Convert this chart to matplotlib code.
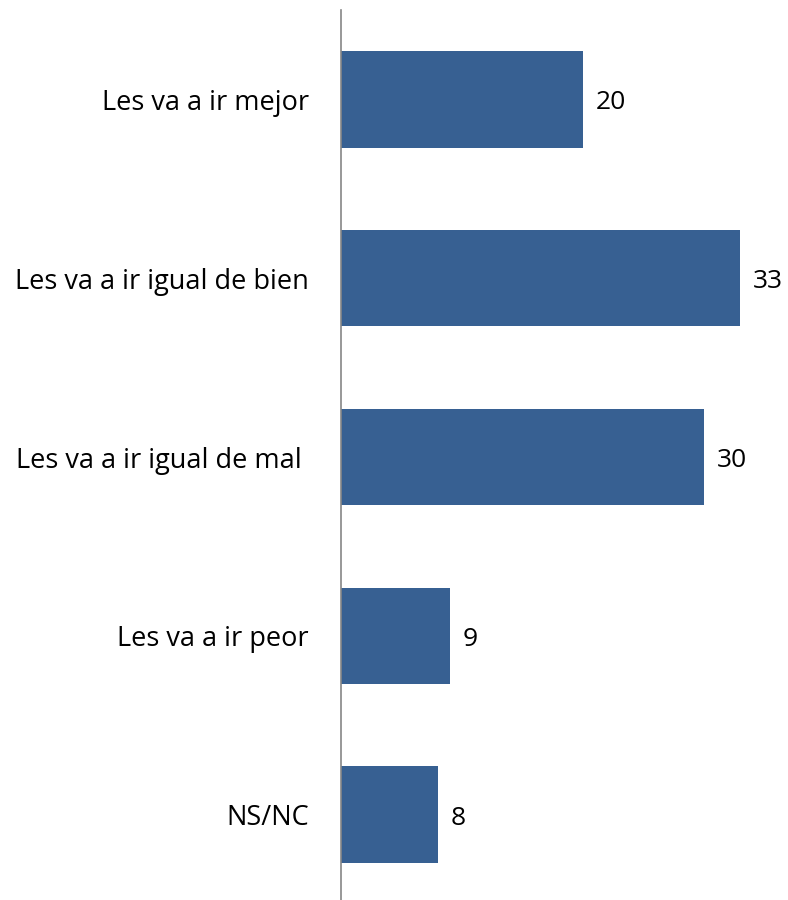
import matplotlib.pyplot as plt

categories = ['Les va a ir mejor', 'Les va a ir igual de bien',
              'Les va a ir igual de mal ', 'Les va a ir peor', 'NS/NC']
values = [20, 33, 30, 9, 8]

plt.rcParams['font.family'] = ['Open Sans', 'DejaVu Sans']

fig = plt.figure(figsize=(7.88, 9.0), dpi=100)
ax = fig.add_axes([341 / 788, -4 / 900, 447 / 788, 894 / 900])

y = list(range(len(categories)))
ax.barh(y, values, height=0.54, color='#376092')
ax.set_ylim(len(categories) - 0.5, -0.5)
ax.set_xlim(0, 447 / 12.1)

for i, v in enumerate(values):
    ax.annotate(str(v), (v, i), xytext=(9, -2.5), textcoords='offset points',
                va='center', ha='left', fontsize=19, color='black')

ax.set_yticks(y)
ax.set_yticklabels(categories, fontsize=19.5)
ax.tick_params(axis='y', length=0, pad=23)
ax.set_xticks([])
for s in ['top', 'right', 'bottom']:
    ax.spines[s].set_visible(False)
ax.spines['left'].set_color('#868686')
ax.spines['left'].set_linewidth(1.2)

fig.savefig('out.png', dpi=100)
